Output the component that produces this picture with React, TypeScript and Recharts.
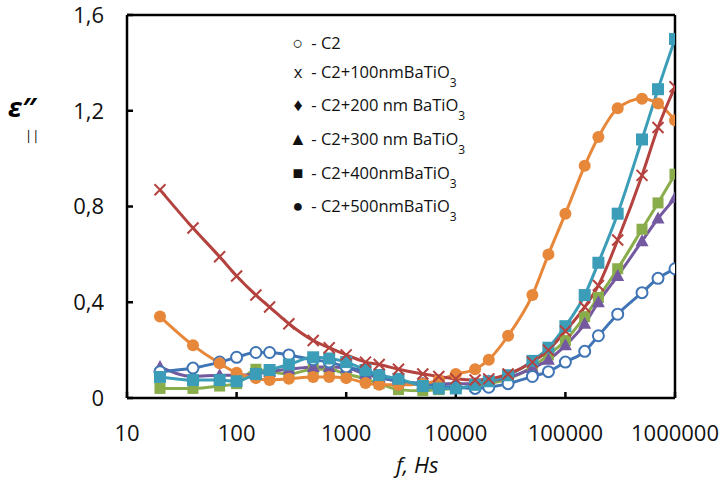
import React from 'react';
import { LineChart, Line, XAxis, YAxis, ReferenceLine } from 'recharts';

const freqs = [20, 40, 70, 100, 150, 200, 300, 500, 700, 1000, 1500, 2000, 3000, 5000, 7000, 10000, 15000, 20000, 30000, 50000, 70000, 100000, 150000, 200000, 300000, 500000, 700000, 1000000];

const c2 = [0.11, 0.125, 0.15, 0.17, 0.19, 0.19, 0.18, 0.16, 0.15, 0.13, 0.11, 0.09, 0.07, 0.06, 0.05, 0.045, 0.04, 0.045, 0.06, 0.09, 0.11, 0.15, 0.195, 0.26, 0.35, 0.44, 0.5, 0.54];
const c100 = [0.87, 0.71, 0.59, 0.51, 0.43, 0.38, 0.31, 0.24, 0.21, 0.18, 0.15, 0.14, 0.12, 0.1, 0.09, 0.08, 0.075, 0.08, 0.1, 0.15, 0.2, 0.28, 0.38, 0.47, 0.66, 0.93, 1.13, 1.3];
const c200 = [0.04, 0.04, 0.05, 0.06, 0.12, 0.11, 0.1, 0.12, 0.12, 0.1, 0.08, 0.06, 0.035, 0.03, 0.035, 0.04, 0.05, 0.06, 0.08, 0.13, 0.18, 0.24, 0.34, 0.42, 0.54, 0.705, 0.815, 0.935];
const c300 = [0.13, 0.09, 0.095, 0.095, 0.1, 0.11, 0.12, 0.13, 0.13, 0.125, 0.1, 0.085, 0.07, 0.06, 0.06, 0.06, 0.06, 0.07, 0.085, 0.125, 0.16, 0.22, 0.31, 0.4, 0.51, 0.655, 0.75, 0.835];
const c400 = [0.088, 0.075, 0.075, 0.07, 0.1, 0.117, 0.14, 0.17, 0.165, 0.15, 0.117, 0.096, 0.08, 0.05, 0.04, 0.04, 0.055, 0.07, 0.095, 0.155, 0.21, 0.3, 0.43, 0.565, 0.77, 1.08, 1.29, 1.5];
const c500 = [0.34, 0.22, 0.145, 0.105, 0.083, 0.075, 0.08, 0.088, 0.088, 0.083, 0.063, 0.055, 0.055, 0.06, 0.075, 0.1, 0.12, 0.16, 0.26, 0.43, 0.6, 0.77, 0.97, 1.09, 1.21, 1.25, 1.23, 1.16];

const xTicks = [10, 100, 1000, 10000, 100000, 1000000];
const yTicks = [0, 0.4, 0.8, 1.2, 1.6];

const data = freqs.map((f, i) => ({
  f,
  c2: c2[i],
  c100: c100[i],
  c200: c200[i],
  c300: c300[i],
  c400: c400[i],
  c500: c500[i],
}));

const BLUE = '#3f74b5';
const RED = '#b4423e';
const GREEN = '#8aad4b';
const PURPLE = '#7459a0';
const TEAL = '#3b9db7';
const ORANGE = '#e7873a';

const FONT = '"Open Sans", sans-serif';

const OpenCircle = (props: any) => {
  const { cx, cy, index } = props;
  return <circle key={index} cx={cx} cy={cy} r={5.5} fill="#fff" stroke={BLUE} strokeWidth={2} />;
};
const Cross = (props: any) => {
  const { cx, cy, index } = props;
  const s = 5.5;
  return (
    <path key={index} d={`M${cx - s},${cy - s}L${cx + s},${cy + s}M${cx - s},${cy + s}L${cx + s},${cy - s}`} stroke={RED} strokeWidth={2} />
  );
};
const makeSquare = (color: string, s: number) => (props: any) => {
  const { cx, cy, index } = props;
  return <rect key={index} x={cx - s} y={cy - s} width={2 * s} height={2 * s} fill={color} />;
};
const Triangle = (props: any) => {
  const { cx, cy, index } = props;
  return <path key={index} d={`M${cx},${cy - 7}L${cx + 6.5},${cy + 5}L${cx - 6.5},${cy + 5}Z`} fill={PURPLE} />;
};
const Dot = (props: any) => {
  const { cx, cy, index } = props;
  return <circle key={index} cx={cx} cy={cy} r={6} fill={ORANGE} />;
};

const legendRows = [
  { mark: '○', text: '- C2', sub: false, top: 31 },
  { mark: 'x', text: '- C2+100nmBaTiO', sub: true, top: 61 },
  { mark: '♦', text: '- C2+200 nm BaTiO', sub: true, top: 93 },
  { mark: '▲', text: '- C2+300 nm BaTiO', sub: true, top: 127 },
  { mark: '■', text: '- C2+400nmBaTiO', sub: true, top: 161 },
  { mark: '●', text: '- C2+500nmBaTiO', sub: true, top: 194 },
];

const App: React.FC = () => {
  return (
    <div style={{ position: 'absolute', left: 0, top: 0, width: 723, height: 482, background: '#fff', fontFamily: FONT }}>
      <LineChart width={723} height={482} data={data} margin={{ top: 15, right: 48, bottom: 0, left: 67 }}>
        <XAxis
          dataKey="f"
          type="number"
          scale="log"
          domain={[10, 1000000]}
          ticks={xTicks}
          allowDataOverflow
          stroke="#000"
          strokeWidth={2.5}
          tickSize={-6}
          tickMargin={33}
          height={84}
          tick={{ fill: '#111', fontSize: 22, fontFamily: FONT }}
        />
        <YAxis
          type="number"
          domain={[0, 1.6]}
          ticks={yTicks}
          width={60}
          stroke="#000"
          strokeWidth={2.5}
          tickSize={-6}
          tickMargin={29}
          tickFormatter={(v: number) => (v === 0 ? '0' : v.toFixed(1).replace('.', ','))}
          tick={{ fill: '#111', fontSize: 22, fontFamily: FONT }}
        />
        <ReferenceLine y={1.6} stroke="#000" strokeWidth={2.5} />
        <ReferenceLine x={1000000} stroke="#000" strokeWidth={2.5} />
        <Line type="monotone" dataKey="c200" stroke={GREEN} strokeWidth={3} dot={makeSquare(GREEN, 5.5)} isAnimationActive={false} />
        <Line type="monotone" dataKey="c300" stroke={PURPLE} strokeWidth={3} dot={Triangle} isAnimationActive={false} />
        <Line type="monotone" dataKey="c2" stroke={BLUE} strokeWidth={3} dot={OpenCircle} isAnimationActive={false} />
        <Line type="monotone" dataKey="c500" stroke={ORANGE} strokeWidth={3} dot={Dot} isAnimationActive={false} />
        <Line type="monotone" dataKey="c400" stroke={TEAL} strokeWidth={3} dot={makeSquare(TEAL, 6)} isAnimationActive={false} />
        <Line type="monotone" dataKey="c100" stroke={RED} strokeWidth={3} dot={Cross} isAnimationActive={false} />
      </LineChart>

      {legendRows.map((r) => (
        <div key={r.text} style={{ position: 'absolute', left: 289, top: r.top, fontSize: 16.5, color: '#111', whiteSpace: 'nowrap', lineHeight: '22px' }}>
          <span style={{ display: 'inline-block', width: 18, textAlign: 'center', fontSize: r.mark === 'x' ? 16.5 : 18 }}>{r.mark}</span>
          <span> {r.text}</span>
          {r.sub && <span style={{ fontSize: 12, position: 'relative', top: 9 }}>3</span>}
        </div>
      ))}

      <div style={{ position: 'absolute', left: 8, top: 96, fontSize: 27, fontWeight: 'bold', fontStyle: 'italic', color: '#000', lineHeight: '22px', whiteSpace: 'nowrap' }}>
        ε″
      </div>
      <div style={{ position: 'absolute', left: 25, top: 129, fontSize: 13, color: '#000', lineHeight: '12px' }}>||</div>

      <div style={{ position: 'absolute', left: 396, top: 450, fontSize: 22, fontStyle: 'italic', color: '#111', lineHeight: '28px' }}>
        f, Hs
      </div>
    </div>
  );
};

export default App;
